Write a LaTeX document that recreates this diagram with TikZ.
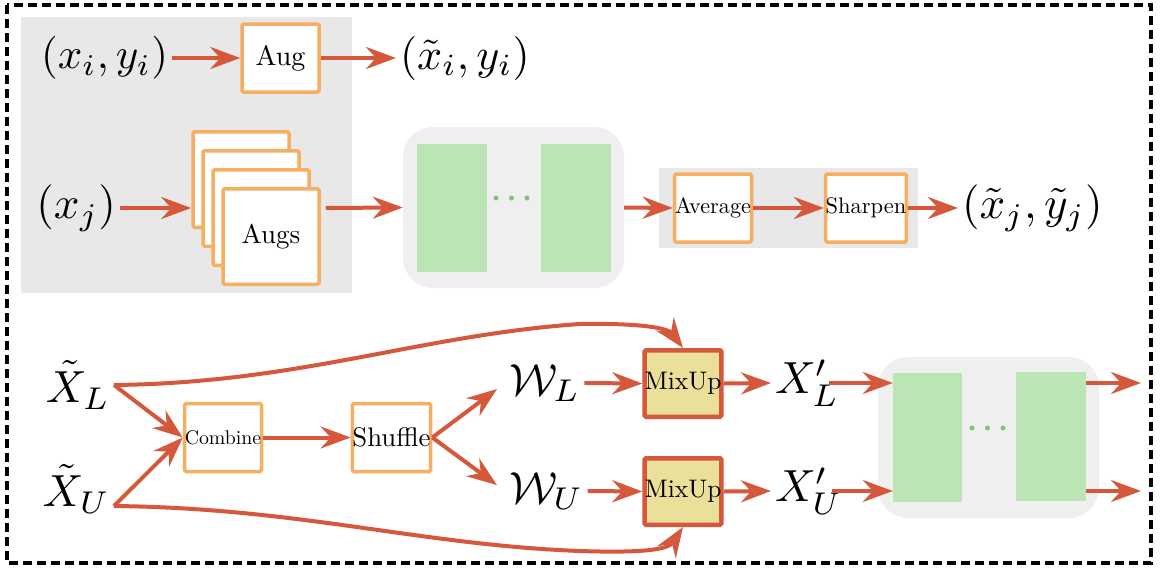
\documentclass[tikz,border=0pt]{standalone}
\usepackage{graphicx}
\usetikzlibrary{arrows.meta}

\definecolor{arrowred}{RGB}{214,88,60}
\definecolor{boxorange}{RGB}{246,174,96}
\definecolor{mixfill}{RGB}{234,224,154}
\definecolor{panelgray}{RGB}{232,232,232}
\definecolor{netgray}{RGB}{239,239,239}
\definecolor{netgreen}{RGB}{188,229,182}
\definecolor{dotgreen}{RGB}{128,196,112}

% enlarged maths and box captions, keeping the 10pt design of the fonts
\newcommand{\bigmath}[1]{\scalebox{4.5}{$#1$}}
\newcommand{\boxtext}[2]{\scalebox{#1}{#2}}

\tikzset{
  obox/.style={draw=boxorange, line width=3.5pt, fill=white, rounded corners=1.5pt,
    inner sep=0pt, minimum width=77pt, minimum height=68pt},
  mixbox/.style={draw=arrowred, line width=4.5pt, fill=mixfill, rounded corners=1.5pt,
    inner sep=0pt, minimum width=75.5pt, minimum height=66.5pt},
  arr/.style={draw=arrowred, line width=4pt,
    -{Stealth[length=30pt,width=22pt,inset=10pt]}},
  mlabel/.style={inner sep=0pt, outer sep=4pt},
  netpanel/.style={fill=netgray, rounded corners=30pt, inner sep=0pt,
    minimum width=221pt, minimum height=161pt},
  netlayer/.style={fill=netgreen, inner sep=0pt, minimum width=70pt, minimum height=128pt},
  netdot/.style={circle, fill=dotgreen, inner sep=0pt, minimum size=5pt},
}

\begin{document}
\begin{tikzpicture}[x=1pt,y=-1pt]
\useasboundingbox (0,0) rectangle (1168,571);

% outer frame
\draw[line width=3.5pt, dash pattern=on 9pt off 5pt] (7,5) rectangle (1151,563);

% grey backgrounds
\fill[panelgray] (21,17) rectangle (352,293);
\fill[panelgray] (659,168) rectangle (918,248);

% ---- labelled branch ----
\node[mlabel, anchor=east] (xi) at (172,58) {\scalebox{4.3}{$(x_i, y_i)$}};
\node[obox] (aug) at (280.5,58) {\boxtext{2.8}{Aug}};
\node[mlabel, anchor=west] (xti) at (396,58) {\scalebox{4.4}{$(\tilde{x}_i, y_i)$}};
\draw[arr] (xi.east) -- (aug.west);
\draw[arr] (aug.east) -- (xti.west);

% ---- unlabelled branch ----
\node[mlabel, anchor=east] (xj) at (120,208) {\bigmath{(x_j)}};
\node[obox, minimum width=96pt, minimum height=95.5pt] (augsA) at (241,179.5) {};
\node[obox, minimum width=96pt, minimum height=95.5pt] (augsB) at (251,198.5) {};
\node[obox, minimum width=96pt, minimum height=95.5pt] (augsC) at (261,217.5) {};
\node[obox, minimum width=96pt, minimum height=95.5pt] (augsD) at (271,236.5)
  {\boxtext{2.7}{Augs}};
\draw[arr] (xj.east) -- (xj.east -| augsA.west);

% model
\node[netpanel] (net1) at (513.5,207.5) {};
\node[netlayer] (n1a) at (452,208) {};
\node[netlayer] (n1b) at (576,207.5) {};
\foreach \px in {496,511.5,527} \node[netdot] at (\px,198) {};
\draw[arr, shorten <=5pt] (augsD.east |- xj.east) -- (net1.west);

\node[obox] (avg) at (713,208) {\boxtext{2.22}{Average}};
\node[obox] (sharp) at (866,208) {\boxtext{2.25}{Sharpen}};
\node[mlabel, anchor=west] (xtj) at (958,208) {\bigmath{(\tilde{x}_j, \tilde{y}_j)}};
\draw[arr] (net1.east) -- (avg.west);
\draw[arr] (avg.east) -- (sharp.west);
\draw[arr] (sharp.east) -- (xtj.west);

% ---- mixing stage ----
\node[mlabel, anchor=east] (XL) at (114,385) {\bigmath{\tilde{X}_L}};
\node[mlabel, anchor=east] (XU) at (114,489) {\bigmath{\tilde{X}_U}};
\node[obox] (comb) at (223,437.5) {\boxtext{1.98}{Combine}};
\node[obox] (shuf) at (391.5,437.5) {\boxtext{2.68}{Shuffle}};
\node[mlabel, anchor=west] (WL) at (505,383) {\bigmath{\mathcal{W}_L}};
\node[mlabel, anchor=west] (WU) at (505,491) {\bigmath{\mathcal{W}_U}};
\node[mixbox] (mixL) at (683,383.5) {\boxtext{2.54}{MixUp}};
\node[mixbox] (mixU) at (683,491.5) {\boxtext{2.54}{MixUp}};
\node[mlabel, anchor=west] (XpL) at (771,383) {\bigmath{X'_L}};
\node[mlabel, anchor=west] (XpU) at (771,491) {\bigmath{X'_U}};

\draw[arr] (XL.east) -- (comb.west);
\draw[arr] ([yshift=-17pt]XU.east) -- (comb.west);
\draw[arr] (comb.east) -- (shuf.west);
\draw[arr, shorten >=10pt] (shuf.east) -- (WL.west);
\draw[arr, shorten >=10pt] (shuf.east) -- (WU.west);
\draw[arr] (WL.east) -- (mixL.west);
\draw[arr] (WU.east) -- (mixU.west);
\draw[arr] (mixL.east) -- (XpL.west);
\draw[arr] (mixU.east) -- (XpU.west);

% skip connections into the MixUp blocks
\draw[arr] (XL.east) .. controls (300,383) and (420,335) .. (580,324)
                    .. controls (640,323) and (668,328) .. (mixL.north);
\draw[arr] ([yshift=-17pt]XU.east) .. controls (300,508) and (420,545) .. (580,551)
                    .. controls (640,553) and (668,550) .. (mixU.south);

% second model
\node[netpanel] (net2) at (988.5,437.5) {};
\node[netlayer, minimum width=69pt, minimum height=129pt] (n2a) at (927.5,437.5) {};
\node[netlayer, minimum width=70pt, minimum height=129pt] (n2b) at (1051,436.5) {};
\foreach \px in {972,987.5,1003} \node[netdot] at (\px,428) {};

\draw[arr] ([xshift=-14pt]XpL.east) -- (XpL.east -| n2a.west);
\draw[arr] ([xshift=-14pt]XpU.east) -- (XpU.east -| n2a.west);

\coordinate (outL) at (1141,383);
\coordinate (outU) at (1141,491);
\draw[arr] (n2b.east |- outL) -- (outL);
\draw[arr] (n2b.east |- outU) -- (outU);
\end{tikzpicture}
\end{document}
